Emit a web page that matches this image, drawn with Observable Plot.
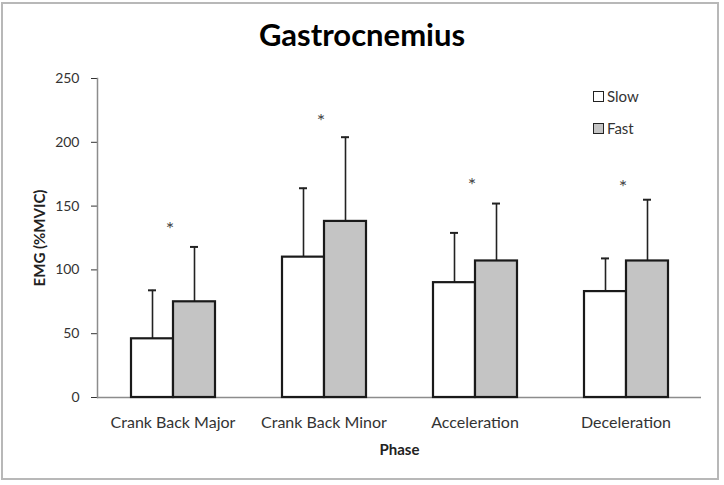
<!DOCTYPE html>
<html>
<head>
<meta charset="utf-8">
<script src="https://cdn.jsdelivr.net/npm/d3@7"></script>
<script src="https://cdn.jsdelivr.net/npm/@observablehq/plot@0.6"></script>
<style>
  html, body { margin: 0; padding: 0; background: #fff; }
  #wrap { position: relative; width: 724px; height: 485px; font-family: Lato, "Open Sans", sans-serif; }
  #border { position: absolute; left: 1px; top: 2px; width: 718px; height: 478px; border: 2px solid #b8b8b8; box-sizing: border-box; pointer-events: none; }
  #title { position: absolute; left: 0; width: 724px; top: 15px; text-align: center; font-size: 31px; font-weight: bold; color: #000; }
  .leg { position: absolute; left: 593px; font-size: 15px; color: #333; display: flex; align-items: center; }
  .leg span.box { display: inline-block; width: 9px; height: 9px; border: 1.5px solid #222; margin-right: 3px; }
</style>
</head>
<body>
<div id="wrap">
  <div id="chart"></div>
  <div id="title">Gastrocnemius</div>
  <div id="legend"></div>
  <div id="border"></div>
</div>
<script>
const phases = ["Crank Back Major", "Crank Back Minor", "Acceleration", "Deceleration"];
const speeds = ["Slow", "Fast"];
const slowMean = [46, 110, 90, 83];
const slowSD   = [38, 54, 39, 26];
const fastMean = [75, 138, 107, 107];
const fastSD   = [43, 66, 45, 48];
const starY    = [135, 219, 169, 168];
const yTicks   = [0, 50, 100, 150, 200, 250];
const colors   = {Slow: "#ffffff", Fast: "#c4c4c4"};

const rows = [];
phases.forEach((p, i) => {
  rows.push({phase: p, speed: "Slow", mean: slowMean[i], sd: slowSD[i]});
  rows.push({phase: p, speed: "Fast", mean: fastMean[i], sd: fastSD[i]});
});
const stars = phases.map((p, i) => ({phase: p, y: starY[i]}));

const chart = Plot.plot({
  width: 724,
  height: 485,
  marginLeft: 96,
  marginRight: 22,
  marginTop: 78,
  marginBottom: 88,
  style: {fontFamily: "Lato, 'Open Sans', sans-serif", fontSize: "14px", color: "#333", background: "transparent"},
  fx: {domain: phases, padding: 0, label: "Phase", labelAnchor: "center", labelOffset: 57, tickSize: 0, tickPadding: 19},
  x: {domain: speeds, paddingInner: 0, paddingOuter: 0.76, axis: null},
  y: {domain: [0, 250], ticks: yTicks, tickSize: 6, tickPadding: 12, label: "EMG (%MVIC)", labelArrow: false, labelAnchor: "center", labelOffset: 63},
  color: {domain: speeds, range: speeds.map(s => colors[s])},
  marks: [
    Plot.frame({anchor: "left", facet: "super", stroke: "#8c8c8c", strokeWidth: 1.5}),
    Plot.ruleY([0], {stroke: "#8c8c8c", strokeWidth: 1.5}),
    Plot.ruleX(rows, {fx: "phase", x: "speed", y1: "mean", y2: d => d.mean + d.sd, stroke: "#222", strokeWidth: 1.6}),
    Plot.tickY(rows, {fx: "phase", x: "speed", y: d => d.mean + d.sd, stroke: "#222", strokeWidth: 2, insetLeft: 17, insetRight: 17}),
    Plot.barY(rows, {fx: "phase", x: "speed", y: "mean", fill: "speed", stroke: "#1a1a1a", strokeWidth: 2.2}),
    Plot.text(stars, {fx: "phase", y: "y", text: () => "*", fontSize: 20, fill: "#444", dx: -3, dy: 4})
  ]
});
document.getElementById("chart").appendChild(chart);

// style axis labels
d3.select(chart).selectAll("[aria-label='fx-axis label'] text, [aria-label='y-axis label'] text")
  .style("font-weight", "bold").style("font-size", "15px").style("fill", "#222")
  .each(function() { this.textContent = this.textContent.replace(/[↑→]/g, "").trim(); });
d3.select(chart).selectAll("[aria-label='fx-axis tick label'] text")
  .style("font-size", "16px");

const leg = document.getElementById("legend");
[["Slow", 90], ["Fast", 122]].forEach(([s, top]) => {
  const d = document.createElement("div");
  d.className = "leg";
  d.style.top = (top - 3) + "px";
  d.innerHTML = `<span class="box" style="background:${colors[s]}"></span>${s}`;
  leg.appendChild(d);
});
</script>
</body>
</html>
